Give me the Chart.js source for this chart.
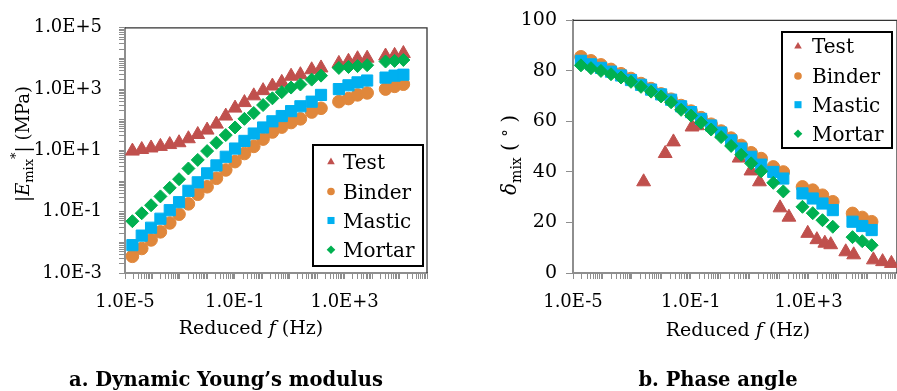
<!DOCTYPE html>
<html>
<head>
<meta charset="utf-8">
<script src="https://cdn.jsdelivr.net/npm/chart.js@4.4.1/dist/chart.umd.min.js"></script>
<style>
  html, body { margin: 0; background: #fff; }
  body { overflow: hidden; width: 897px; height: 391px; position: relative; }
  canvas { position: absolute; top: 0; }
  .cap { position: absolute; top: 368px; font: bold 19.5px "DejaVu Serif"; line-height: 24px;
         transform: translateX(-50%); white-space: nowrap; color: #000; }
</style>
</head>
<body>
<canvas id="modulus" width="450" height="391" style="left:0"></canvas>
<canvas id="phase" width="460" height="391" style="left:450px"></canvas>
<div class="cap" style="left:226px">a. Dynamic Young’s modulus</div>
<div class="cap" style="left:718px">b. Phase angle</div>
<script>
// reduced frequency (Hz), shared by all series of the modulus plot and by binder/mastic/mortar phase
var freq = [1.86e-5, 4.07e-5, 8.9e-5, 1.95e-4, 4.27e-4, 9.3e-4, 2.04e-3, 4.47e-3, 9.8e-3, 0.0214,
            0.0468, 0.102, 0.224, 0.49, 1.07, 2.34, 5.13, 11.2, 24.5, 63, 138, 617, 1380, 2950, 6610,
            30900, 66100, 138000];

// |E*mix| (MPa)
var modTest   = [9.5, 10.7, 12.0, 13.5, 15.5, 17.8, 24, 33, 46, 72, 132, 240, 363, 603, 891, 1259, 1660,
                 2630, 2950, 4270, 4900, 6900, 8100, 9800, 10200, 12000, 12600, 14500];
var modBinder = [0.0035, 0.0063, 0.012, 0.022, 0.043, 0.083, 0.18, 0.37, 0.65, 1.23, 2.3, 4.3, 7.9, 13.5,
                 23.4, 39.8, 57.5, 81, 107, 178, 237, 389, 490, 646, 750, 1000, 1230, 1445];
var modMastic = [0.0081, 0.0166, 0.030, 0.059, 0.112, 0.204, 0.48, 0.91, 1.78, 3.24, 6.2, 11.5, 20.4, 35.5,
                 56, 89, 132, 191, 275, 389, 646, 1000, 1333, 1660, 1905, 2370, 2750, 2950];
var modMortar = [0.049, 0.089, 0.162, 0.316, 0.60, 1.15, 2.57, 4.9, 9.5, 17.8, 31.6, 56, 107, 166, 302,
                 501, 794, 1122, 1413, 2040, 2750, 4900, 5250, 5620, 6030, 7940, 8320, 8910];

// phase angle (deg)
var phaseBinder = [85.6, 84.0, 82.4, 80.6, 78.9, 77.0, 75.0, 73.0, 70.9, 68.8, 66.3, 64.1, 61.5, 58.9,
                   56.2, 53.4, 50.5, 47.6, 45.3, 42.0, 40.0, 34.1, 32.8, 30.8, 28.2, 23.6, 22.0, 20.3];
var phaseMastic = [84.0, 82.6, 81.2, 79.7, 78.2, 76.4, 74.5, 72.6, 70.7, 68.6, 66.0, 63.7, 61.0, 58.4,
                   55.6, 52.5, 49.3, 46.0, 42.9, 40.0, 37.4, 31.5, 29.5, 27.5, 24.9, 20.3, 18.6, 17.0];
var phaseMortar = [82.2, 81.1, 80.0, 78.7, 77.4, 75.7, 73.7, 71.8, 69.9, 67.6, 64.6, 62.3, 59.5, 56.8,
                   53.8, 50.3, 46.8, 43.4, 40.3, 35.7, 32.3, 26.2, 23.7, 20.9, 18.3, 14.2, 12.6, 11.0];
// the test phase angle was measured at its own frequencies
var phaseTestFreq = [2.5e-3, 0.0135, 0.0257, 0.11, 0.166, 4.37, 11, 21.4, 107, 214, 933, 1905, 3550,
                     5620, 18200, 33900, 158000, 324000, 646000];
var phaseTest = [36.1, 47.3, 51.9, 57.8, 58.3, 45.5, 40.4, 36.1, 25.8, 22.1, 15.7, 13.2, 11.8, 11.2,
                 8.4, 7.2, 5.2, 4.5, 3.8];

var freqTickValues = [1e-5, 1e-1, 1e3];
var freqTickLabels = ["1.0E-5", "1.0E-1", "1.0E+3"];
var modTickValues = [1e-3, 1e-1, 1e1, 1e3, 1e5];
var modTickLabels = ["1.0E-3", "1.0E-1", "1.0E+1", "1.0E+3", "1.0E+5"];

var seriesNames = ["Test", "Binder", "Mastic", "Mortar"];
var colors = ["#C0504D", "#E0873B", "#00B0F0", "#00B050"];
var styles = ["triangle", "circle", "rect", "rectRot"];
var radii = [8, 6.3, 7.9, 6.5];
var legendRadii = [4.4, 3.8, 5.0, 4.3];

var FONT = "DejaVu Serif";
var axisGray = "#8e8e8e";

function pts(xs, ys) {
  return xs.map(function (x, i) { return { x: x, y: ys[i] }; });
}

function makeSets(list) {
  return list.map(function (d, i) {
    return {
      label: seriesNames[i],
      data: d,
      pointStyle: styles[i],
      pointRadius: radii[i],
      pointBackgroundColor: colors[i],
      pointBorderColor: colors[i],
      pointBorderWidth: 1,
      backgroundColor: colors[i],
      showLine: false,
      order: 3 - i
    };
  });
}

// all decade sub-ticks 1..9 x 10^e between 10^lo and 10^hi
function logTicks(lo, hi) {
  var t = [];
  for (var e = lo; e < hi; e++) {
    for (var k = 1; k < 10; k++) t.push(k * Math.pow(10, e));
  }
  t.push(Math.pow(10, hi));
  return t.map(function (v) { return { value: v }; });
}

function labelFor(values, labels) {
  return function (v) {
    for (var i = 0; i < values.length; i++) {
      if (Math.abs(Math.log10(v) - Math.log10(values[i])) < 1e-6) return labels[i];
    }
    return "";
  };
}

function drawRich(ctx, parts, cx, cy, angle) {
  var w = 0;
  parts.forEach(function (p) { ctx.font = p.f; p.w = ctx.measureText(p.t).width; w += p.w + (p.adv || 0); });
  ctx.save();
  ctx.translate(cx, cy);
  ctx.rotate(angle);
  ctx.textBaseline = "alphabetic";
  ctx.textAlign = "left";
  ctx.fillStyle = "#000";
  var x = -w / 2;
  parts.forEach(function (p) {
    ctx.font = p.f;
    ctx.fillText(p.t, x, p.dy || 0);
    x += p.w + (p.adv || 0);
  });
  ctx.restore();
}

function decorations(o) {
  return {
    id: "decorations",
    beforeDatasetsDraw: function (chart) {
      var a = chart.chartArea, ctx = chart.ctx;
      ctx.save();
      ctx.strokeStyle = "#333";
      ctx.lineWidth = 1.3;
      ctx.beginPath();
      ctx.moveTo(a.left, a.top);
      ctx.lineTo(a.right, a.top);
      ctx.lineTo(a.right, a.bottom);
      ctx.stroke();
      ctx.restore();
    },
    afterDraw: function (chart) {
      var ctx = chart.ctx;
      drawRich(ctx, o.yTitle, o.yTitlePos[0], o.yTitlePos[1], -Math.PI / 2);
      drawRich(ctx, o.xTitle, o.xTitlePos[0], o.xTitlePos[1], 0);
      // legend box
      var b = o.legendBox;
      ctx.save();
      ctx.fillStyle = "#fff";
      ctx.fillRect(b[0], b[1], b[2], b[3]);
      ctx.strokeStyle = "#000";
      ctx.lineWidth = 2;
      ctx.strokeRect(b[0], b[1], b[2], b[3]);
      ctx.font = "20px '" + FONT + "'";
      ctx.textBaseline = "alphabetic";
      ctx.textAlign = "left";
      seriesNames.forEach(function (name, i) {
        var y = o.legendBase[i];
        ctx.fillStyle = colors[i];
        ctx.strokeStyle = colors[i];
        Chart.helpers.drawPoint(ctx, { pointStyle: styles[i], radius: legendRadii[i], borderWidth: 0, rotation: 0 },
          o.legendMarkX, y - 7);
        ctx.fillStyle = "#000";
        ctx.fillText(name, o.legendTextX, y);
      });
      ctx.restore();
    }
  };
}

function xAxis() {
  return {
    type: "logarithmic",
    min: 1e-5,
    max: 1e6,
    afterBuildTicks: function (s) { s.ticks = logTicks(-5, 6); },
    afterFit: function (s) { s.height = 118; },
    border: { color: axisGray, width: 2 },
    grid: { drawOnChartArea: false, color: axisGray, tickLength: 6, lineWidth: 1 },
    ticks: {
      autoSkip: false, maxRotation: 0, padding: 13, color: "#000",
      font: { family: FONT, size: 18 },
      callback: labelFor(freqTickValues, freqTickLabels)
    }
  };
}

var sub = "13px '" + FONT + "'";
var reg = "18px '" + FONT + "'";
var ita = "italic 18px '" + FONT + "'";

new Chart("modulus", {
  type: "scatter",
  data: {
    datasets: makeSets([pts(freq, modTest), pts(freq, modBinder), pts(freq, modMastic), pts(freq, modMortar)])
  },
  options: {
    responsive: false,
    animation: false,
    layout: { padding: { top: 18, right: 23, left: 0, bottom: 0 } },
    plugins: { legend: { display: false }, tooltip: { enabled: false } },
    scales: {
      x: xAxis(),
      y: {
        type: "logarithmic",
        min: 1e-3,
        max: 1e5,
        afterBuildTicks: function (s) { s.ticks = logTicks(-3, 5); },
        afterFit: function (s) { s.width = 125; },
        border: { color: axisGray, width: 2 },
        grid: { drawOnChartArea: false, color: axisGray, tickLength: 6, lineWidth: 1 },
        ticks: {
          autoSkip: false, padding: 17, color: "#000",
          font: { family: FONT, size: 18 },
          callback: labelFor(modTickValues, modTickLabels)
        }
      }
    }
  },
  plugins: [decorations({
    yTitle: [{ t: "|", f: reg }, { t: "E", f: ita }, { t: "mix", f: sub, dy: 4 },
             { t: "*", f: sub, dy: -9 }, { t: "| (MPa)", f: reg }],
    yTitlePos: [29, 144],
    xTitle: [{ t: "Reduced ", f: "19px '" + FONT + "'" }, { t: "f", f: "italic 19px '" + FONT + "'" },
             { t: " (Hz)", f: "19px '" + FONT + "'" }],
    xTitlePos: [251, 334],
    legendBox: [313, 145, 110, 121],
    legendBase: [169, 198.5, 227.5, 256.7],
    legendMarkX: 331,
    legendTextX: 343
  })]
});

new Chart("phase", {
  type: "scatter",
  data: {
    datasets: makeSets([pts(phaseTestFreq, phaseTest), pts(freq, phaseBinder), pts(freq, phaseMastic),
                        pts(freq, phaseMortar)])
  },
  options: {
    responsive: false,
    animation: false,
    layout: { padding: { top: 19, right: 11, left: 0, bottom: 0 } },
    plugins: { legend: { display: false }, tooltip: { enabled: false } },
    scales: {
      x: xAxis(),
      y: {
        min: 0,
        max: 100,
        afterFit: function (s) { s.width = 123; },
        border: { color: axisGray, width: 2 },
        grid: { drawOnChartArea: false, color: axisGray, tickLength: 7, lineWidth: 1 },
        ticks: { stepSize: 20, padding: 9, color: "#000", font: { family: FONT, size: 19 } }
      }
    }
  },
  plugins: [decorations({
    yTitle: [{ t: "δ", f: "italic 20px '" + FONT + "'" }, { t: "mix", f: "14px '" + FONT + "'", dy: 5 },
             { t: " ( ", f: "20px '" + FONT + "'" }, { t: "°", f: "15px '" + FONT + "'", dy: -3 },
             { t: " )", f: "20px '" + FONT + "'" }],
    yTitlePos: [66, 155],
    xTitle: [{ t: "Reduced ", f: "19px '" + FONT + "'" }, { t: "f", f: "italic 19px '" + FONT + "'" },
             { t: " (Hz)", f: "19px '" + FONT + "'" }],
    xTitlePos: [288, 336],
    legendBox: [332, 32, 110, 116],
    legendBase: [53.3, 83, 111.7, 140.7],
    legendMarkX: 348,
    legendTextX: 362
  })]
});
</script>
</body>
</html>
